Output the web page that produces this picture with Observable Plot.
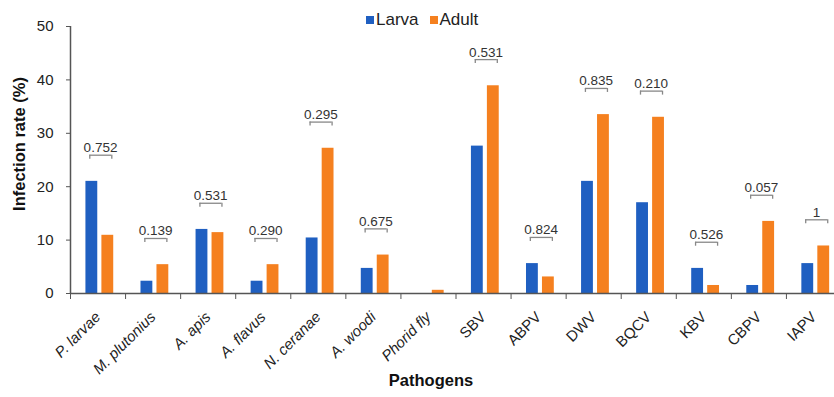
<!DOCTYPE html>
<html>
<head>
<meta charset="utf-8">
<script src="https://cdn.jsdelivr.net/npm/d3@7"></script>
<script src="https://cdn.jsdelivr.net/npm/@observablehq/plot@0.6"></script>
<style>
  html, body { margin: 0; padding: 0; background: #fff; overflow: hidden; }
  #chart { position: relative; width: 834px; height: 397px; font-family: "Liberation Sans", Arial, sans-serif; }
  #legend { position: absolute; left: 366px; top: 10px; z-index: 2; }
  #legend .lg-swatches { font-family: "Liberation Sans", Arial, sans-serif; font-size: 17px; color: #222; min-height: 0; margin: 0; }
  #legend .lg-swatch { margin-right: 11px !important; }
  #legend .lg-swatch > svg { margin-right: 2px !important; }
</style>
</head>
<body>
<div id="chart"><div id="legend"></div></div>
<script>
// Infection rate (%) of each pathogen in larvae and adult bees, with p-values
const pathogens = ["P. larvae", "M. plutonius", "A. apis", "A. flavus", "N. ceranae", "A. woodi", "Phorid fly",
                   "SBV", "ABPV", "DWV", "BQCV", "KBV", "CBPV", "IAPV"];
const italicCount = 7; // the first seven names are organisms, set in italics
const larva = [21.0, 2.3, 12.0, 2.3, 10.4, 4.7, 0.0, 27.6, 5.6, 21.0, 17.0, 4.7, 1.5, 5.6];
const adult = [10.9, 5.4, 11.4, 5.4, 27.2, 7.2, 0.6, 38.9, 3.1, 33.5, 33.0, 1.5, 13.5, 8.9];
const pValues = ["0.752", "0.139", "0.531", "0.290", "0.295", "0.675", null,
                 "0.531", "0.824", "0.835", "0.210", "0.526", "0.057", "1"];
const stages = ["Larva", "Adult"];
const stageColors = ["#1f5fc1", "#f5801f"];
const yTicks = [0, 10, 20, 30, 40, 50];

// bar offsets inside each category slot (slot i spans [i, i + 1])
const barStart = {Larva: 0.28, Adult: 0.57};
const barWidth = 0.215;

const bars = pathogens.flatMap((name, i) => [
  {i, name, stage: "Larva", value: larva[i]},
  {i, name, stage: "Adult", value: adult[i]}
]);

// comparison brackets sit a fixed distance above the taller bar
const brackets = pathogens
  .map((name, i) => ({i, p: pValues[i], top: Math.max(larva[i], adult[i]) + 4.9}))
  .filter(d => d.p !== null);

const slots = d3.range(pathogens.length + 1);
const centers = d3.range(pathogens.length).map(i => i + 0.5);
const nameAt = v => pathogens[Math.floor(v)];
const axisGrey = "#555";

const plot = Plot.plot({
  width: 834,
  height: 397,
  marginTop: 26,
  marginBottom: 104,
  marginLeft: 70,
  marginRight: -7,
  style: {fontFamily: "Liberation Sans, Arial, sans-serif", color: "#222", background: "#fff", overflow: "visible"},
  x: {domain: [0, pathogens.length], axis: null},
  y: {domain: [0, 50], axis: null},
  color: {domain: stages, range: stageColors},
  marks: [
    Plot.rect(bars, {
      x1: d => d.i + barStart[d.stage],
      x2: d => d.i + barStart[d.stage] + barWidth,
      y1: () => 0,
      y2: "value",
      fill: "stage"
    }),
    // axis lines
    Plot.ruleX([0], {y1: 0, y2: 50, stroke: axisGrey, strokeWidth: 1.5}),
    Plot.ruleY([0], {x1: 0, x2: pathogens.length, stroke: axisGrey, strokeWidth: 1.5}),
    Plot.axisY({ticks: yTicks, tickSize: 4, tickPadding: 13, fontSize: 15, label: null, stroke: axisGrey}),
    // slot boundary ticks below the x axis
    Plot.axisX({ticks: slots, tickSize: 6, tickFormat: () => "", label: null, stroke: axisGrey}),
    Plot.axisX({
      ticks: centers.slice(0, italicCount), tickSize: 0, tickPadding: 21, tickRotate: -45,
      tickFormat: nameAt, fontSize: 15, fontStyle: "italic", label: null, dx: 0
    }),
    Plot.axisX({
      ticks: centers.slice(italicCount), tickSize: 0, tickPadding: 21, tickRotate: -45,
      tickFormat: nameAt, fontSize: 15, label: null, dx: 0
    }),
    // p-value brackets
    Plot.ruleY(brackets, {y: "top", x1: d => d.i + 0.35, x2: d => d.i + 0.75, stroke: "#888", strokeWidth: 1.3}),
    Plot.ruleX(brackets, {x: d => d.i + 0.35, y1: "top", y2: d => d.top - 0.75, stroke: "#888", strokeWidth: 1.3}),
    Plot.ruleX(brackets, {x: d => d.i + 0.75, y1: "top", y2: d => d.top - 0.75, stroke: "#888", strokeWidth: 1.3}),
    Plot.text(brackets, {
      x: d => d.i + 0.545, y: "top", text: "p", dy: -3, lineAnchor: "bottom",
      fontSize: 13.5, fill: "#333"
    }),
    // axis titles
    Plot.text(["Infection rate (%)"], {
      frameAnchor: "left", textAnchor: "middle", rotate: -90, dx: -51, dy: -16,
      fontSize: 16.5, fontWeight: "bold", fill: "#111"
    }),
    Plot.text(["Pathogens"], {
      frameAnchor: "bottom", dx: -25, dy: 92,
      fontSize: 16.5, fontWeight: "bold", fill: "#111"
    })
  ]
});

const chart = document.getElementById("chart");
chart.appendChild(plot);
plot.style.position = "absolute";
plot.style.left = "0";
plot.style.top = "0";

const legend = Plot.legend({
  color: {domain: stages, range: stageColors},
  swatchSize: 8,
  className: "lg"
});
document.getElementById("legend").appendChild(legend);
</script>
</body>
</html>
